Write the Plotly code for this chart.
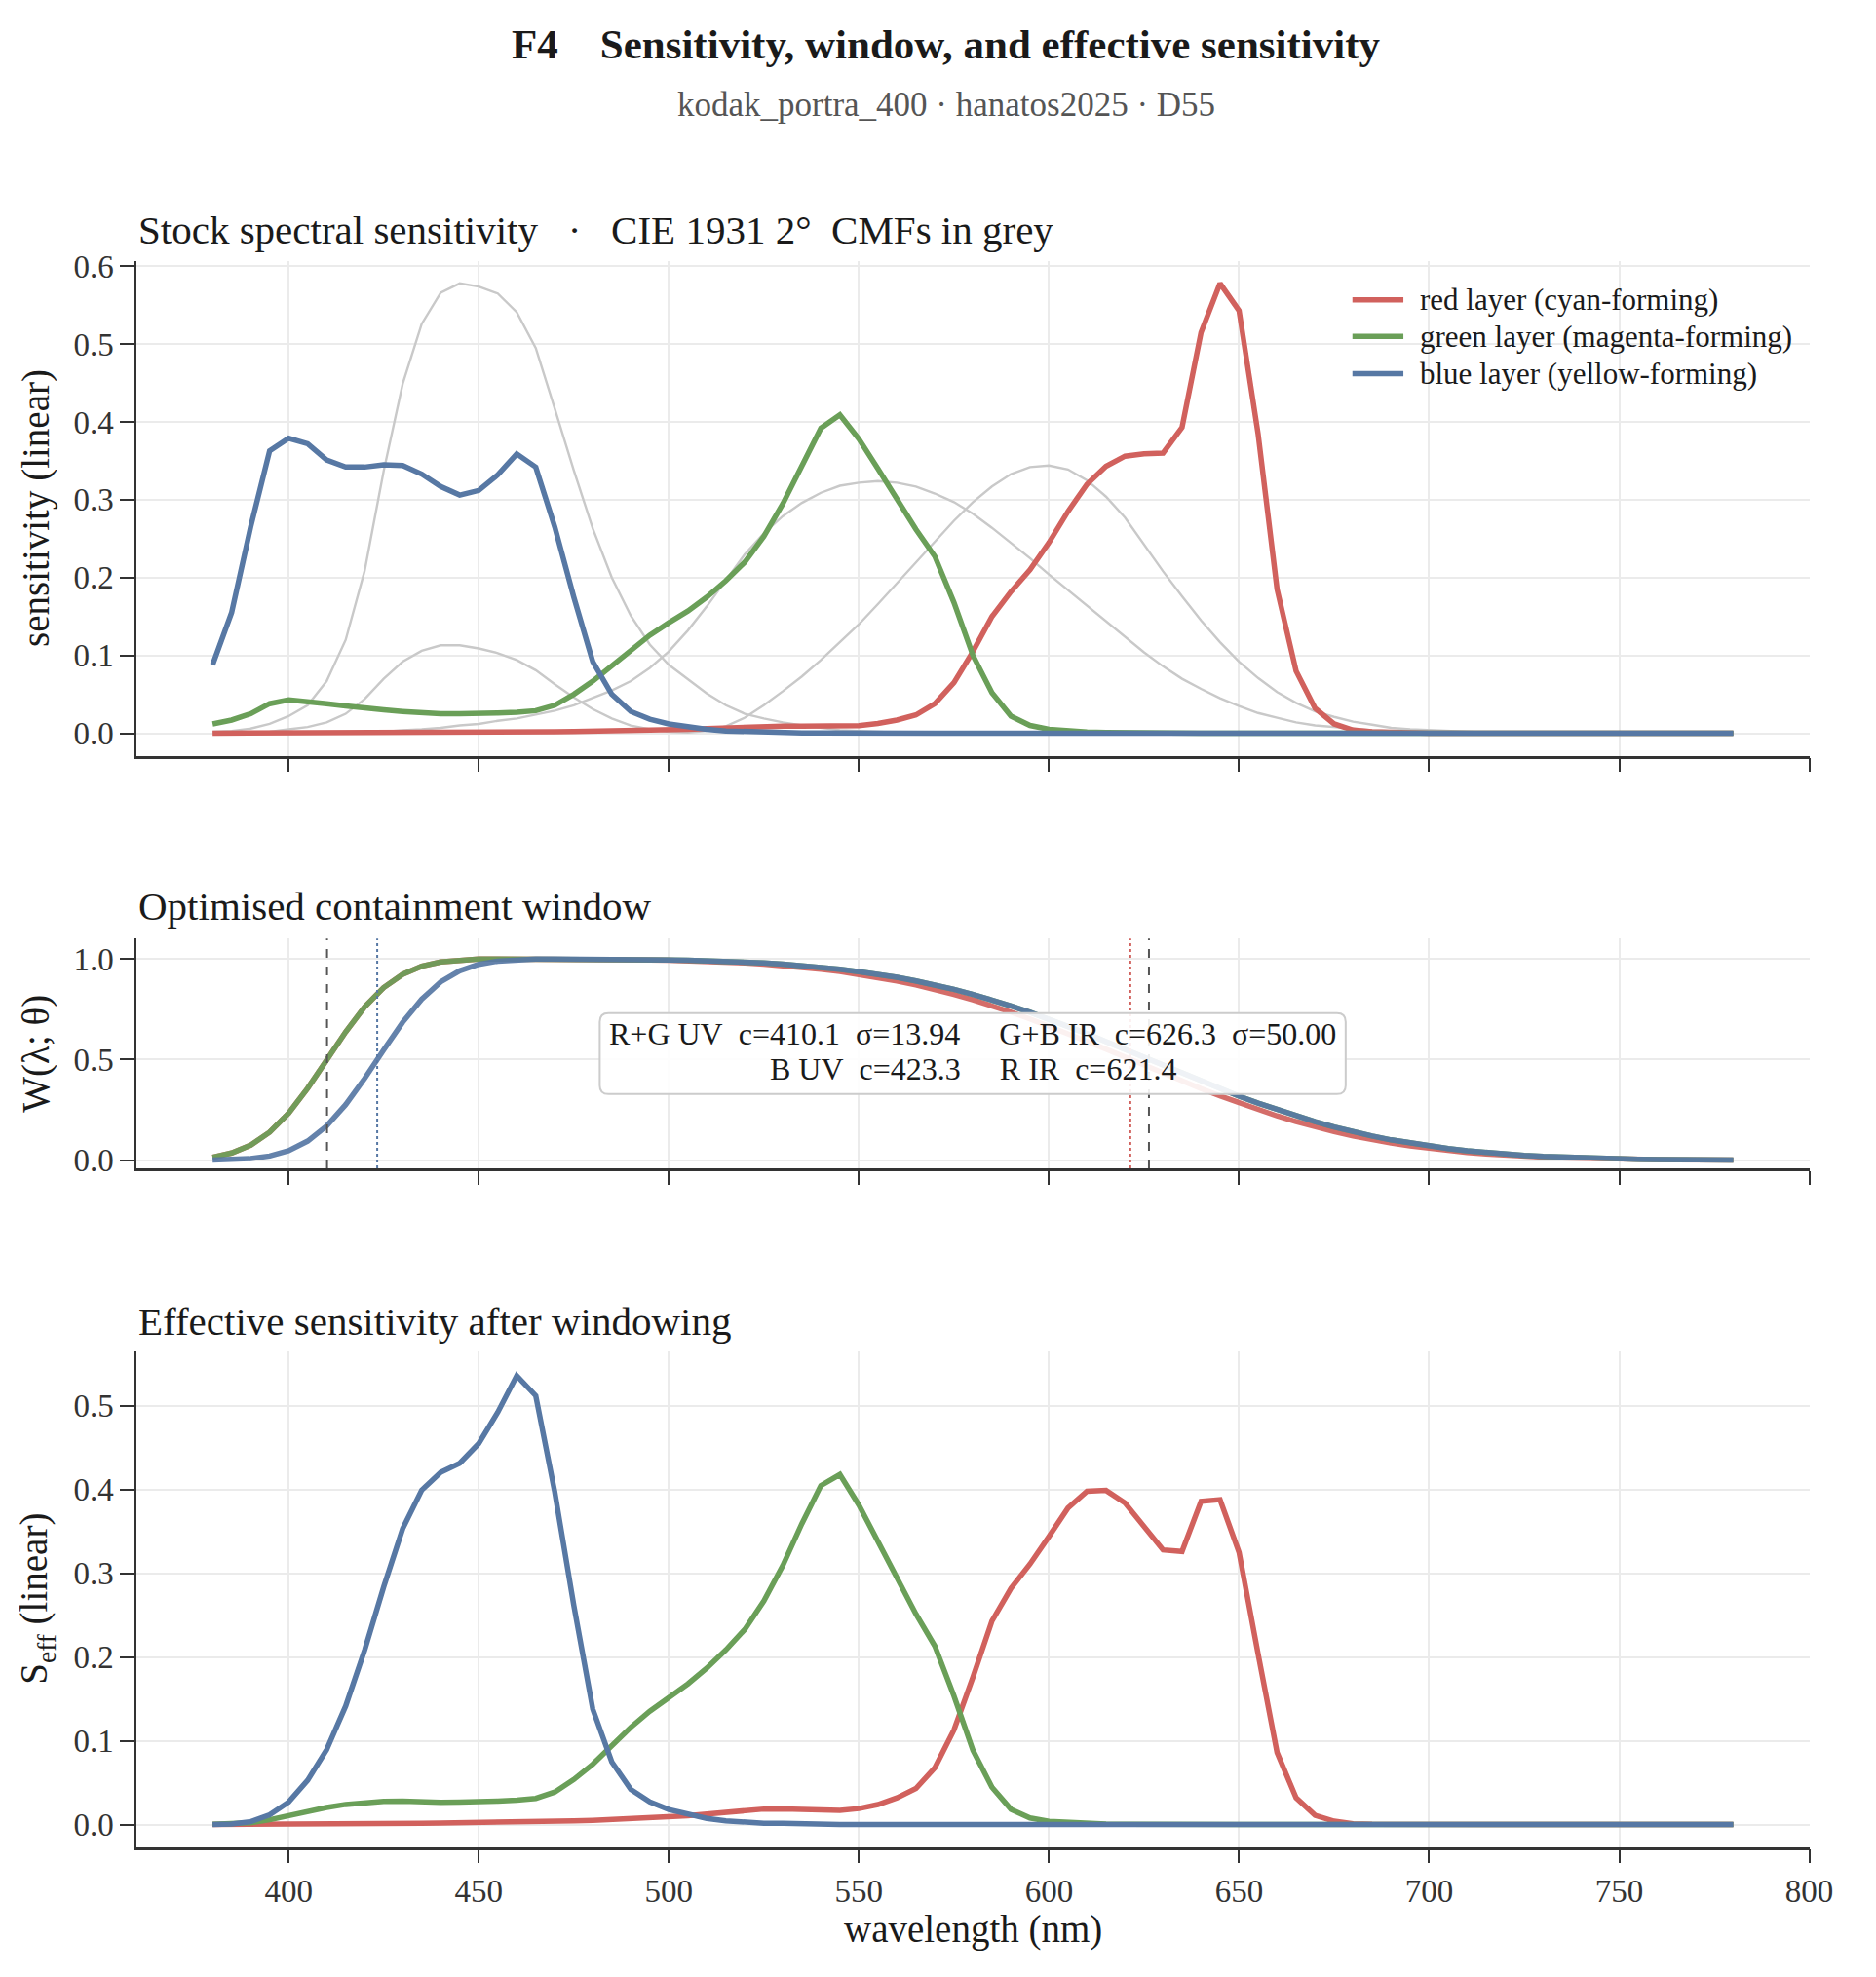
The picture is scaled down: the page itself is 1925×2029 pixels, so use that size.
import plotly.graph_objects as go

# ---------------------------------------------------------
# data (5 nm steps 380..780)
# ---------------------------------------------------------
wavelengths = [
    380, 385, 390, 395, 400, 405, 410, 415, 420, 425,
    430, 435, 440, 445, 450, 455, 460, 465, 470, 475,
    480, 485, 490, 495, 500, 505, 510, 515, 520, 525,
    530, 535, 540, 545, 550, 555, 560, 565, 570, 575,
    580, 585, 590, 595, 600, 605, 610, 615, 620, 625,
    630, 635, 640, 645, 650, 655, 660, 665, 670, 675,
    680, 685, 690, 695, 700, 705, 710, 715, 720, 725,
    730, 735, 740, 745, 750, 755, 760, 765, 770, 775,
    780,
]

# stock spectral sensitivity
sens_red = [
    0.0002, 0.0002, 0.0003, 0.0003, 0.0004, 0.0004, 0.0005, 0.0005, 0.0006, 0.0006,
    0.0007, 0.0007, 0.0008, 0.0009, 0.0010, 0.0011, 0.0013, 0.0015, 0.0018, 0.0021,
    0.0024, 0.0028, 0.0032, 0.0037, 0.0042, 0.0050, 0.0060, 0.0070, 0.0080, 0.0090,
    0.0092, 0.0090, 0.0087, 0.0086, 0.0098, 0.0125, 0.0170, 0.0235, 0.0380, 0.0650,
    0.105, 0.150, 0.182, 0.210, 0.245, 0.285, 0.320, 0.343, 0.356, 0.359,
    0.360, 0.393, 0.515, 0.578, 0.543, 0.385, 0.185, 0.080, 0.032, 0.012,
    0.004, 0.002, 0.001, 0.0005, 0.0, 0.0, 0.0, 0.0, 0.0, 0.0,
    0.0, 0.0, 0.0, 0.0, 0.0, 0.0, 0.0, 0.0, 0.0, 0.0,
    0.0,
]
sens_green = [
    0.012, 0.017, 0.025, 0.038, 0.043, 0.041, 0.038, 0.035, 0.032, 0.030,
    0.028, 0.026, 0.025, 0.025, 0.025, 0.026, 0.027, 0.029, 0.036, 0.050,
    0.067, 0.087, 0.108, 0.126, 0.142, 0.157, 0.175, 0.196, 0.220, 0.253,
    0.295, 0.345, 0.392, 0.409, 0.378, 0.340, 0.300, 0.262, 0.227, 0.168,
    0.100, 0.052, 0.022, 0.010, 0.005, 0.003, 0.0015, 0.001, 0.0005, 0.0,
    0.0, 0.0, 0.0, 0.0, 0.0, 0.0, 0.0, 0.0, 0.0, 0.0,
    0.0, 0.0, 0.0, 0.0, 0.0, 0.0, 0.0, 0.0, 0.0, 0.0,
    0.0, 0.0, 0.0, 0.0, 0.0, 0.0, 0.0, 0.0, 0.0, 0.0,
    0.0,
]
sens_blue = [
    0.088, 0.155, 0.265, 0.363, 0.379, 0.372, 0.351, 0.342, 0.342, 0.345,
    0.344, 0.333, 0.317, 0.306, 0.312, 0.332, 0.359, 0.342, 0.265, 0.175,
    0.092, 0.050, 0.028, 0.018, 0.012, 0.008, 0.005, 0.003, 0.002, 0.001,
    0.001, 0.0005, 0.0003, 0.0, 0.0, 0.0, 0.0, 0.0, 0.0, 0.0,
    0.0, 0.0, 0.0, 0.0, 0.0, 0.0, 0.0, 0.0, 0.0, 0.0,
    0.0, 0.0, 0.0, 0.0, 0.0, 0.0, 0.0, 0.0, 0.0, 0.0,
    0.0, 0.0, 0.0, 0.0, 0.0, 0.0, 0.0, 0.0, 0.0, 0.0,
    0.0, 0.0, 0.0, 0.0, 0.0, 0.0, 0.0, 0.0, 0.0, 0.0,
    0.0,
]

# CIE 1931 2 deg CMFs, as drawn (scaled to the sensitivity peak)
cmf_x = [
    0.000, 0.001, 0.001, 0.002, 0.005, 0.008, 0.014, 0.025, 0.044, 0.070,
    0.092, 0.106, 0.113, 0.113, 0.109, 0.103, 0.094, 0.081, 0.063, 0.046,
    0.031, 0.019, 0.010, 0.005, 0.002, 0.001, 0.003, 0.009, 0.020, 0.036,
    0.054, 0.073, 0.094, 0.117, 0.140, 0.166, 0.193, 0.220, 0.247, 0.273,
    0.297, 0.317, 0.333, 0.342, 0.344, 0.339, 0.325, 0.304, 0.277, 0.243,
    0.208, 0.176, 0.145, 0.117, 0.092, 0.071, 0.053, 0.039, 0.028, 0.021,
    0.015, 0.011, 0.007, 0.005, 0.004, 0.003, 0.002, 0.001, 0.001, 0.001,
    0.000, 0.000, 0.000, 0.000, 0.000, 0.000, 0.000, 0.000, 0.000, 0.000,
    0.000,
]
cmf_y = [
    0.000, 0.000, 0.000, 0.000, 0.000, 0.000, 0.000, 0.001, 0.001, 0.002,
    0.004, 0.005, 0.007, 0.010, 0.012, 0.016, 0.019, 0.024, 0.029, 0.036,
    0.045, 0.055, 0.067, 0.084, 0.105, 0.132, 0.163, 0.197, 0.230, 0.257,
    0.279, 0.296, 0.309, 0.318, 0.322, 0.324, 0.322, 0.317, 0.308, 0.297,
    0.282, 0.264, 0.245, 0.225, 0.204, 0.184, 0.163, 0.143, 0.123, 0.104,
    0.086, 0.070, 0.057, 0.045, 0.035, 0.026, 0.020, 0.014, 0.010, 0.008,
    0.006, 0.004, 0.003, 0.002, 0.001, 0.001, 0.001, 0.000, 0.000, 0.000,
    0.000, 0.000, 0.000, 0.000, 0.000, 0.000, 0.000, 0.000, 0.000, 0.000,
    0.000,
]
cmf_z = [
    0.002, 0.003, 0.006, 0.012, 0.022, 0.036, 0.067, 0.120, 0.209, 0.337,
    0.449, 0.526, 0.566, 0.578, 0.574, 0.565, 0.541, 0.495, 0.417, 0.338,
    0.263, 0.200, 0.151, 0.114, 0.088, 0.069, 0.051, 0.036, 0.025, 0.019,
    0.014, 0.010, 0.007, 0.004, 0.003, 0.002, 0.001, 0.001, 0.001, 0.001,
    0.001, 0.000, 0.000, 0.000, 0.000, 0.000, 0.000, 0.000, 0.000, 0.000,
    0.000, 0.000, 0.000, 0.000, 0.000, 0.000, 0.000, 0.000, 0.000, 0.000,
    0.000, 0.000, 0.000, 0.000, 0.000, 0.000, 0.000, 0.000, 0.000, 0.000,
    0.000, 0.000, 0.000, 0.000, 0.000, 0.000, 0.000, 0.000, 0.000, 0.000,
    0.000,
]

# optimised containment window W(lambda; theta)
win_red = [
    0.015, 0.036, 0.075, 0.139, 0.234, 0.357, 0.497, 0.637, 0.761, 0.857,
    0.923, 0.963, 0.984, 0.994, 0.998, 0.999, 0.999, 0.999, 0.999, 0.998,
    0.998, 0.997, 0.996, 0.994, 0.992, 0.990, 0.987, 0.983, 0.979, 0.973,
    0.966, 0.958, 0.948, 0.937, 0.923, 0.908, 0.890, 0.870, 0.848, 0.823,
    0.796, 0.767, 0.735, 0.701, 0.666, 0.629, 0.590, 0.551, 0.511, 0.471,
    0.432, 0.393, 0.355, 0.319, 0.284, 0.251, 0.220, 0.192, 0.166, 0.142,
    0.121, 0.102, 0.085, 0.071, 0.058, 0.047, 0.038, 0.031, 0.024, 0.019,
    0.015, 0.012, 0.009, 0.007, 0.005, 0.004, 0.003, 0.002, 0.002, 0.001,
    0.001,
]
win_green = [
    0.015, 0.036, 0.075, 0.139, 0.234, 0.357, 0.497, 0.637, 0.761, 0.857,
    0.923, 0.963, 0.984, 0.994, 0.998, 0.999, 0.999, 0.999, 0.999, 0.999,
    0.998, 0.998, 0.997, 0.996, 0.994, 0.992, 0.990, 0.987, 0.983, 0.979,
    0.973, 0.966, 0.958, 0.948, 0.936, 0.923, 0.908, 0.890, 0.870, 0.848,
    0.823, 0.796, 0.766, 0.734, 0.701, 0.665, 0.628, 0.589, 0.550, 0.510,
    0.471, 0.431, 0.392, 0.354, 0.318, 0.283, 0.250, 0.219, 0.191, 0.165,
    0.141, 0.120, 0.101, 0.085, 0.070, 0.058, 0.047, 0.038, 0.030, 0.024,
    0.019, 0.015, 0.011, 0.009, 0.007, 0.005, 0.004, 0.003, 0.002, 0.001,
    0.001,
]
win_blue = [
    0.001, 0.003, 0.008, 0.021, 0.047, 0.095, 0.170, 0.276, 0.406, 0.548,
    0.685, 0.799, 0.885, 0.940, 0.972, 0.988, 0.995, 0.998, 0.999, 0.999,
    0.998, 0.998, 0.997, 0.996, 0.994, 0.992, 0.990, 0.987, 0.983, 0.979,
    0.973, 0.966, 0.958, 0.948, 0.936, 0.923, 0.908, 0.890, 0.870, 0.848,
    0.823, 0.796, 0.766, 0.734, 0.701, 0.665, 0.628, 0.589, 0.550, 0.510,
    0.471, 0.431, 0.392, 0.354, 0.318, 0.283, 0.250, 0.219, 0.191, 0.165,
    0.141, 0.120, 0.101, 0.085, 0.070, 0.058, 0.047, 0.038, 0.030, 0.024,
    0.019, 0.015, 0.011, 0.009, 0.007, 0.005, 0.004, 0.003, 0.002, 0.001,
    0.001,
]

# window parameters (drawn as vertical markers)
rg_uv_c, rg_uv_sigma = 410.1, 13.94
b_uv_c = 423.3
gb_ir_c, gb_ir_sigma = 626.3, 50.00
r_ir_c = 621.4

# effective sensitivity after windowing
eff_red = [
    0.0000, 0.0000, 0.0001, 0.0001, 0.0002, 0.0003, 0.0005, 0.0007, 0.0010, 0.0011,
    0.0014, 0.0014, 0.0017, 0.0019, 0.0021, 0.0023, 0.0027, 0.0032, 0.0038, 0.0044,
    0.0051, 0.0059, 0.0067, 0.0078, 0.0088, 0.0104, 0.0125, 0.0145, 0.0165, 0.0185,
    0.0188, 0.0182, 0.0174, 0.0170, 0.0191, 0.0239, 0.0319, 0.0431, 0.0680, 0.1129,
    0.176, 0.243, 0.282, 0.311, 0.344, 0.378, 0.398, 0.399, 0.384, 0.357,
    0.328, 0.326, 0.386, 0.388, 0.325, 0.204, 0.086, 0.032, 0.011, 0.004,
    0.001, 0.0004, 0.0002, 0.0001, 0.0, 0.0, 0.0, 0.0, 0.0, 0.0,
    0.0, 0.0, 0.0, 0.0, 0.0, 0.0, 0.0, 0.0, 0.0, 0.0,
    0.0,
]
eff_green = [
    0.0002, 0.0007, 0.0020, 0.0057, 0.0108, 0.0158, 0.0204, 0.0240, 0.0263, 0.0277,
    0.0279, 0.0270, 0.0265, 0.0268, 0.0269, 0.0280, 0.0291, 0.0312, 0.0388, 0.0538,
    0.0721, 0.0936, 0.1161, 0.1353, 0.1522, 0.1679, 0.1868, 0.2085, 0.2331, 0.2670,
    0.3094, 0.3593, 0.4048, 0.4180, 0.3814, 0.3383, 0.2936, 0.2514, 0.2129, 0.1536,
    0.0887, 0.0446, 0.0182, 0.0079, 0.0038, 0.0022, 0.0010, 0.0006, 0.0003, 0.0,
    0.0, 0.0, 0.0, 0.0, 0.0, 0.0, 0.0, 0.0, 0.0, 0.0,
    0.0, 0.0, 0.0, 0.0, 0.0, 0.0, 0.0, 0.0, 0.0, 0.0,
    0.0, 0.0, 0.0, 0.0, 0.0, 0.0, 0.0, 0.0, 0.0, 0.0,
    0.0,
]
eff_blue = [
    0.0001, 0.0007, 0.0034, 0.0115, 0.0269, 0.0528, 0.0895, 0.1415, 0.2085, 0.2838,
    0.3533, 0.3993, 0.4206, 0.4315, 0.4550, 0.4923, 0.5360, 0.5120, 0.3970, 0.2620,
    0.1378, 0.0748, 0.0419, 0.0269, 0.0179, 0.0119, 0.0074, 0.0044, 0.0029, 0.0015,
    0.0015, 0.0007, 0.0004, 0.0, 0.0, 0.0, 0.0, 0.0, 0.0, 0.0,
    0.0, 0.0, 0.0, 0.0, 0.0, 0.0, 0.0, 0.0, 0.0, 0.0,
    0.0, 0.0, 0.0, 0.0, 0.0, 0.0, 0.0, 0.0, 0.0, 0.0,
    0.0, 0.0, 0.0, 0.0, 0.0, 0.0, 0.0, 0.0, 0.0, 0.0,
    0.0, 0.0, 0.0, 0.0, 0.0, 0.0, 0.0, 0.0, 0.0, 0.0,
    0.0,
]

layer_names = [
    "red layer (cyan-forming)",
    "green layer (magenta-forming)",
    "blue layer (yellow-forming)",
]
x_ticks = [400, 450, 500, 550, 600, 650, 700, 750, 800]

# ---------------------------------------------------------
# style
# ---------------------------------------------------------
W, H = 1925, 2029          # reference canvas, used to place things
FONT = "Liberation Serif, Times New Roman, serif"
RED, GREEN, BLUE = "#d1615d", "#6a9f58", "#5778a4"
GREY = "#c9c9c9"
INK = "#333333"
GRID = "#ebebeb"

def px_x(p):
    return p / W

def px_y(p):
    return 1 - p / H

# middle-panel pixel box, used for the info box placement
MID_L, MID_R, MID_T, MID_B = 142, 1881, 961.7, 1200

def mid_fx(p):
    return (p - MID_L) / (MID_R - MID_L)

def mid_fy(p):
    return (MID_B - p) / (MID_B - MID_T)

fig = go.Figure()

# ---------------------------------------------------------
# panel 1: sensitivities + CMFs
# ---------------------------------------------------------
for cmf in (cmf_x, cmf_y, cmf_z):
    fig.add_trace(go.Scatter(
        x=wavelengths, y=cmf, mode="lines",
        line=dict(color=GREY, width=2.4),
        hoverinfo="skip", xaxis="x", yaxis="y",
    ))

for name, vals, col in zip(layer_names, (sens_red, sens_green, sens_blue), (RED, GREEN, BLUE)):
    fig.add_trace(go.Scatter(
        x=wavelengths, y=vals, mode="lines", name=name,
        line=dict(color=col, width=5.5),
        xaxis="x", yaxis="y",
    ))

# legend, drawn by hand so the row spacing matches
legend_rows = [299, 337, 375.5]
for name, col, row in zip(layer_names, (RED, GREEN, BLUE), legend_rows):
    fig.add_shape(
        type="line", xref="paper", yref="paper",
        x0=px_x(1406), x1=px_x(1459), y0=px_y(row), y1=px_y(row),
        line=dict(color=col, width=5.5),
    )
    fig.add_annotation(
        xref="paper", yref="paper", x=px_x(1474), y=px_y(row),
        text=name, showarrow=False, xanchor="left", yanchor="middle",
        font=dict(family=FONT, size=31, color="#1a1a1a"),
    )

# ---------------------------------------------------------
# panel 2: window
# ---------------------------------------------------------
for vals, col in zip((win_red, win_green, win_blue), (RED, GREEN, BLUE)):
    fig.add_trace(go.Scatter(
        x=wavelengths, y=vals, mode="lines",
        line=dict(color=col, width=5.5), opacity=0.92,
        xaxis="x2", yaxis="y2",
    ))

vlines = [
    (rg_uv_c, "#555555", "dash"),
    (b_uv_c, BLUE, "dot"),
    (r_ir_c, RED, "dot"),
    (gb_ir_c, "#555555", "dash"),
]
for xv, col, dash in vlines:
    fig.add_shape(
        type="line", xref="x2", yref="y2 domain",
        x0=xv, x1=xv, y0=0, y1=1,
        line=dict(color=col, width=2, dash=dash),
    )

# rounded info box
bx0, bx1 = mid_fx(623.5), mid_fx(1399)
by0, by1 = mid_fy(1123), mid_fy(1039)
rx, ry = 9 / (MID_R - MID_L), 9 / (MID_B - MID_T)
box_path = (
    f"M{bx0 + rx},{by0} L{bx1 - rx},{by0} Q{bx1},{by0} {bx1},{by0 + ry} "
    f"L{bx1},{by1 - ry} Q{bx1},{by1} {bx1 - rx},{by1} "
    f"L{bx0 + rx},{by1} Q{bx0},{by1} {bx0},{by1 - ry} "
    f"L{bx0},{by0 + ry} Q{bx0},{by0} {bx0 + rx},{by0} Z"
)
fig.add_shape(
    type="path", xref="x2 domain", yref="y2 domain", path=box_path,
    fillcolor="rgba(255,255,255,0.9)", line=dict(color="#cccccc", width=2),
)

nb = "\u00a0"
line1 = (f"R+G{nb}UV{nb*2}c={rg_uv_c:.1f}{nb*2}σ={rg_uv_sigma:.2f}{nb*5}"
         f"G+B{nb}IR{nb*2}c={gb_ir_c:.1f}{nb*2}σ={gb_ir_sigma:.2f}")
line2 = f"B{nb}UV{nb*2}c={b_uv_c:.1f}{nb*5}R{nb}IR{nb*2}c={r_ir_c:.1f}"

for txt, yy in ((line1, mid_fy(1061)), (line2, mid_fy(1097))):
    fig.add_annotation(
        xref="x2 domain", yref="y2 domain", x=0.5, y=yy,
        text=txt, showarrow=False, xanchor="center", yanchor="middle",
        font=dict(family=FONT, size=32, color="#1a1a1a"),
    )

# ---------------------------------------------------------
# panel 3: effective sensitivity
# ---------------------------------------------------------
for vals, col in zip((eff_red, eff_green, eff_blue), (RED, GREEN, BLUE)):
    fig.add_trace(go.Scatter(
        x=wavelengths, y=vals, mode="lines",
        line=dict(color=col, width=5.5),
        xaxis="x3", yaxis="y3",
    ))

# ---------------------------------------------------------
# axes
# ---------------------------------------------------------
x_dom = [px_x(142), px_x(1881)]
common_x = dict(
    domain=x_dom, range=[360, 800], tickvals=x_ticks,
    showline=True, linecolor=INK, linewidth=2.5,
    ticks="outside", ticklen=14, tickwidth=2, tickcolor=INK,
    showgrid=True, gridcolor=GRID, gridwidth=2, zeroline=False,
    tickfont=dict(family=FONT, size=33, color=INK),
)
common_y = dict(
    showline=True, linecolor=INK, linewidth=2.5,
    ticks="outside", ticklen=14, tickwidth=2, tickcolor=INK,
    showgrid=True, gridcolor=GRID, gridwidth=2, zeroline=False,
    tickfont=dict(family=FONT, size=33, color=INK), tickformat=".1f",
)

fig.update_layout(
    xaxis=dict(common_x, anchor="y", showticklabels=False),
    xaxis2=dict(common_x, anchor="y2", showticklabels=False, matches="x"),
    xaxis3=dict(common_x, anchor="y3", matches="x"),
    yaxis=dict(common_y, anchor="x", domain=[px_y(772), px_y(258.5)],
               range=[-0.0289, 0.607], tickvals=[0.0, 0.1, 0.2, 0.3, 0.4, 0.5, 0.6]),
    yaxis2=dict(common_y, anchor="x2", domain=[px_y(MID_B), px_y(MID_T)],
                range=[-0.04, 1.10], tickvals=[0.0, 0.5, 1.0]),
    yaxis3=dict(common_y, anchor="x3", domain=[px_y(1904.3), px_y(1390)],
                range=[-0.0269, 0.565], tickvals=[0.0, 0.1, 0.2, 0.3, 0.4, 0.5]),
)

# ---------------------------------------------------------
# titles and labels
# ---------------------------------------------------------
texts = [
    (f"<b>F4{nb*4}Sensitivity, window, and effective sensitivity</b>",
     0.511, px_y(34), "center", 43, "#1a1a1a", 0),
    ("kodak_portra_400 · hanatos2025 · D55",
     0.511, px_y(97), "center", 35, "#555555", 0),
    (f"Stock spectral sensitivity{nb*3}·{nb*3}CIE 1931 2°{nb*2}CMFs in grey",
     px_x(142), px_y(226), "left", 41, "#1a1a1a", 0),
    ("Optimised containment window",
     px_x(142), px_y(928), "left", 41, "#1a1a1a", 0),
    ("Effective sensitivity after windowing",
     px_x(142), px_y(1359), "left", 41, "#1a1a1a", 0),
    ("wavelength (nm)",
     px_x(1011.5), px_y(1990), "center", 39, "#1a1a1a", 0),
    ("sensitivity (linear)",
     px_x(38), px_y(515), "center", 39, "#1a1a1a", -90),
    ("W(λ; θ)",
     px_x(38), px_y(1081), "center", 39, "#1a1a1a", -90),
    ("S<sub>eff</sub> (linear)",
     px_x(38), px_y(1647), "center", 39, "#1a1a1a", -90),
]
for text, x, y, xanchor, size, color, angle in texts:
    fig.add_annotation(
        xref="paper", yref="paper", x=x, y=y, text=text,
        xanchor=xanchor, yanchor="middle", showarrow=False,
        textangle=angle, font=dict(family=FONT, size=size, color=color),
    )

fig.update_layout(
    autosize=True,
    margin=dict(l=0, r=0, t=0, b=0),
    plot_bgcolor="white", paper_bgcolor="white",
    font=dict(family=FONT, size=30, color="#1a1a1a"),
    showlegend=False,
)

# the figure fills the browser window, pinned to its origin
fig.write_html(
    "out.html",
    config={"displayModeBar": False, "responsive": True},
    default_width="100vw",
    default_height="100vh; position:fixed; top:0; left:0",
)
